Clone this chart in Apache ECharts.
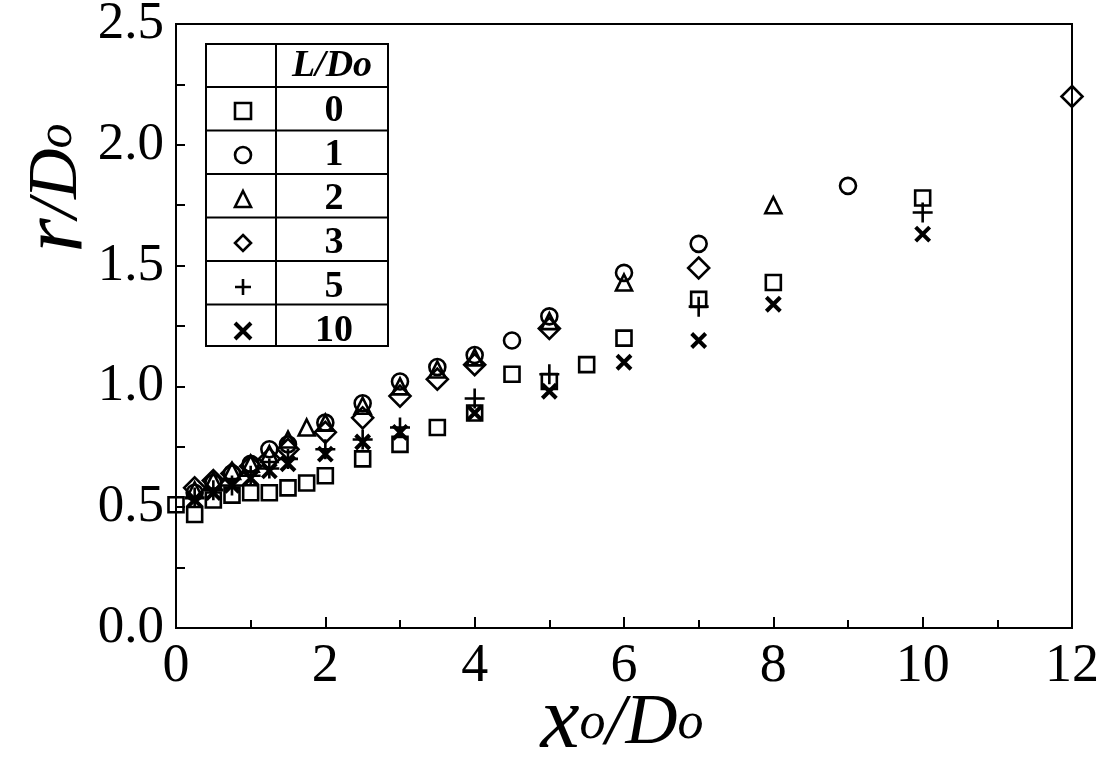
<!DOCTYPE html>
<html>
<head>
<meta charset="utf-8">
<script src="https://cdn.jsdelivr.net/npm/echarts@6/dist/echarts.min.js"></script>
<style>
  html, body { margin: 0; padding: 0; background: #ffffff; }
  #chart { width: 1118px; height: 760px; }
</style>
</head>
<body>
<div id="chart"></div>
<script>
// Jet radius r/Do against downstream distance xo/Do for several L/Do values
const SERIF = "'Liberation Serif', 'Times New Roman', 'DejaVu Serif', serif";

const groupNames = ['0', '1', '2', '3', '5', '10'];

// L/Do = 0 (squares)
const xL0 = [0, 0.25, 0.5, 0.75, 1, 1.25, 1.5, 1.75, 2, 2.5, 3, 3.5, 4, 4.5, 5, 5.5, 6, 7, 8, 10];
const yL0 = [0.51, 0.47, 0.53, 0.55, 0.56, 0.56, 0.58, 0.60, 0.63, 0.70, 0.76, 0.83, 0.89, 1.05, 1.02, 1.09, 1.20, 1.36, 1.43, 1.78];
// L/Do = 1 (circles)
const xL1 = [0.25, 0.5, 0.75, 1, 1.25, 1.5, 2, 2.5, 3, 3.5, 4, 4.5, 5, 6, 7, 9];
const yL1 = [0.56, 0.60, 0.64, 0.68, 0.74, 0.76, 0.85, 0.93, 1.02, 1.08, 1.13, 1.19, 1.29, 1.47, 1.59, 1.83];
// L/Do = 2 (triangles)
const xL2 = [0.25, 0.5, 0.75, 1, 1.25, 1.5, 1.75, 2, 2.5, 3, 3.5, 4, 5, 6, 8];
const yL2 = [0.57, 0.61, 0.65, 0.68, 0.72, 0.78, 0.83, 0.85, 0.92, 1.00, 1.07, 1.12, 1.27, 1.43, 1.75];
// L/Do = 3 (diamonds)
const xL3 = [0.25, 0.5, 0.75, 1, 1.25, 1.5, 2, 2.5, 3, 3.5, 4, 5, 7, 12];
const yL3 = [0.58, 0.61, 0.64, 0.67, 0.70, 0.74, 0.81, 0.87, 0.96, 1.03, 1.09, 1.24, 1.49, 2.20];
// L/Do = 5 (plus signs)
const xL5 = [0.25, 0.5, 0.75, 1, 1.25, 1.5, 2, 2.5, 3, 4, 5, 7, 10];
const yL5 = [0.54, 0.57, 0.59, 0.63, 0.66, 0.70, 0.74, 0.78, 0.83, 0.95, 1.05, 1.33, 1.72];
// L/Do = 10 (crosses)
const xL10 = [0.25, 0.5, 0.75, 1, 1.25, 1.5, 2, 2.5, 3, 4, 5, 6, 7, 8, 10];
const yL10 = [0.53, 0.56, 0.59, 0.62, 0.65, 0.68, 0.72, 0.77, 0.81, 0.89, 0.98, 1.10, 1.19, 1.34, 1.63];

const xTicks = [0, 2, 4, 6, 8, 10, 12];
const yTicks = [0, 0.5, 1.0, 1.5, 2.0, 2.5];

const pairs = (xs, ys) => xs.map((x, i) => [x, ys[i]]);

const PLUS = 'path://M0,10L20,10M10,0L10,20';
const CROSS = 'path://M0,0L20,20M20,0L0,20';

const markerDefs = [
  { xs: xL0,  ys: yL0,  symbol: 'rect',     size: 15, width: 2.6 },
  { xs: xL1,  ys: yL1,  symbol: 'circle',   size: 16, width: 2.6 },
  { xs: xL2,  ys: yL2,  symbol: 'triangle', size: 16, width: 2.6 },
  { xs: xL3,  ys: yL3,  symbol: 'diamond',  size: 21, width: 2.6 },
  { xs: xL5,  ys: yL5,  symbol: PLUS,       size: 20, width: 2.6 },
  { xs: xL10, ys: yL10, symbol: CROSS,      size: 14, width: 4 }
];

const series = markerDefs.map((m, i) => ({
  name: groupNames[i],
  type: 'scatter',
  symbol: m.symbol,
  symbolSize: m.size,
  data: pairs(m.xs, m.ys),
  itemStyle: { color: 'rgba(0,0,0,0)', borderColor: '#000', borderWidth: m.width, opacity: 1 },
  emphasis: { disabled: true },
  silent: true
}));

// legend table frame
const T = { left: 206, top: 44, right: 388, bottom: 346, col: 276 };
const rowLines = [87, 130.5, 174, 217.5, 261, 304.5];
const tableGraphics = [
  { type: 'rect', shape: { x: T.left, y: T.top, width: T.right - T.left, height: T.bottom - T.top },
    style: { fill: '#fff', stroke: '#000', lineWidth: 2 }, z: 10 },
  { type: 'line', shape: { x1: T.col, y1: T.top, x2: T.col, y2: T.bottom },
    style: { stroke: '#000', lineWidth: 2 }, z: 11 }
].concat(rowLines.map(y => ({
  type: 'line', shape: { x1: T.left, y1: y, x2: T.right, y2: y },
  style: { stroke: '#000', lineWidth: 2 }, z: 11
}))).concat([{
  type: 'text', x: (T.col + T.right) / 2, y: (T.top + rowLines[0]) / 2 + 1, z: 12,
  style: { text: 'L/Do', font: 'italic bold 38px ' + SERIF, fill: '#000', align: 'center', verticalAlign: 'middle' }
}]);

const axisLabels = [
  { type: 'text', x: 58, y: 188, rotation: Math.PI / 2, z: 12,
    style: {
      text: '{r|r}{d|/D}{o|o}', align: 'center', verticalAlign: 'middle', fill: '#000',
      rich: {
        r: { fontFamily: SERIF, fontStyle: 'italic', fontSize: 88 },
        d: { fontFamily: SERIF, fontStyle: 'italic', fontSize: 70 },
        o: { fontFamily: SERIF, fontStyle: 'italic', fontSize: 50 }
      }
    } },
  { type: 'text', x: 622, y: 724, z: 12,
    style: {
      text: '{x|x}{s|o}{d|/D}{s|o}', align: 'center', verticalAlign: 'middle', fill: '#000',
      rich: {
        x: { fontFamily: SERIF, fontStyle: 'italic', fontSize: 88 },
        d: { fontFamily: SERIF, fontStyle: 'italic', fontSize: 72 },
        s: { fontFamily: SERIF, fontStyle: 'italic', fontSize: 52 }
      }
    } }
];

const chart = echarts.init(document.getElementById('chart'), null, { renderer: 'canvas' });
chart.setOption({
  animation: false,
  backgroundColor: '#ffffff',
  grid: { left: 176, right: 46, top: 24, bottom: 132, show: true, borderColor: '#000', borderWidth: 2, outerBoundsMode: 'none' },
  xAxis: {
    type: 'value', min: xTicks[0], max: xTicks[xTicks.length - 1], interval: 2,
    axisLine: { show: true, onZero: false, lineStyle: { color: '#000', width: 2 } },
    axisTick: { show: true, inside: true, length: 11, lineStyle: { color: '#000', width: 2 } },
    minorTick: { show: true, splitNumber: 2, length: 8, lineStyle: { color: '#000', width: 2 } },
    splitLine: { show: false },
    axisLabel: { color: '#000', fontFamily: SERIF, fontSize: 54, margin: 12 }
  },
  yAxis: {
    type: 'value', min: yTicks[0], max: yTicks[yTicks.length - 1], interval: 0.5,
    axisLine: { show: true, onZero: false, lineStyle: { color: '#000', width: 2 } },
    axisTick: { show: true, inside: true, length: 9, lineStyle: { color: '#000', width: 2 } },
    minorTick: { show: true, splitNumber: 2, length: 9, lineStyle: { color: '#000', width: 2 } },
    splitLine: { show: false },
    axisLabel: { color: '#000', fontFamily: SERIF, fontSize: 53, margin: 12, formatter: v => v.toFixed(1) }
  },
  legend: {
    orient: 'vertical', left: 233, top: 92, padding: 0, itemGap: 6,
    itemWidth: 16, itemHeight: 16, selectedMode: false, z: 20,
    data: groupNames.map((n, i) => ({
      name: n,
      itemStyle: { color: 'rgba(0,0,0,0)', borderColor: '#000', borderWidth: markerDefs[i].width, opacity: 1 }
    })),
    formatter: name => '{v|' + name + '}',
    textStyle: {
      rich: { v: { width: 156, align: 'center', fontFamily: SERIF, fontWeight: 'bold', fontSize: 38, color: '#000' } }
    }
  },
  graphic: tableGraphics.concat(axisLabels),
  series: series
});
</script>
</body>
</html>
